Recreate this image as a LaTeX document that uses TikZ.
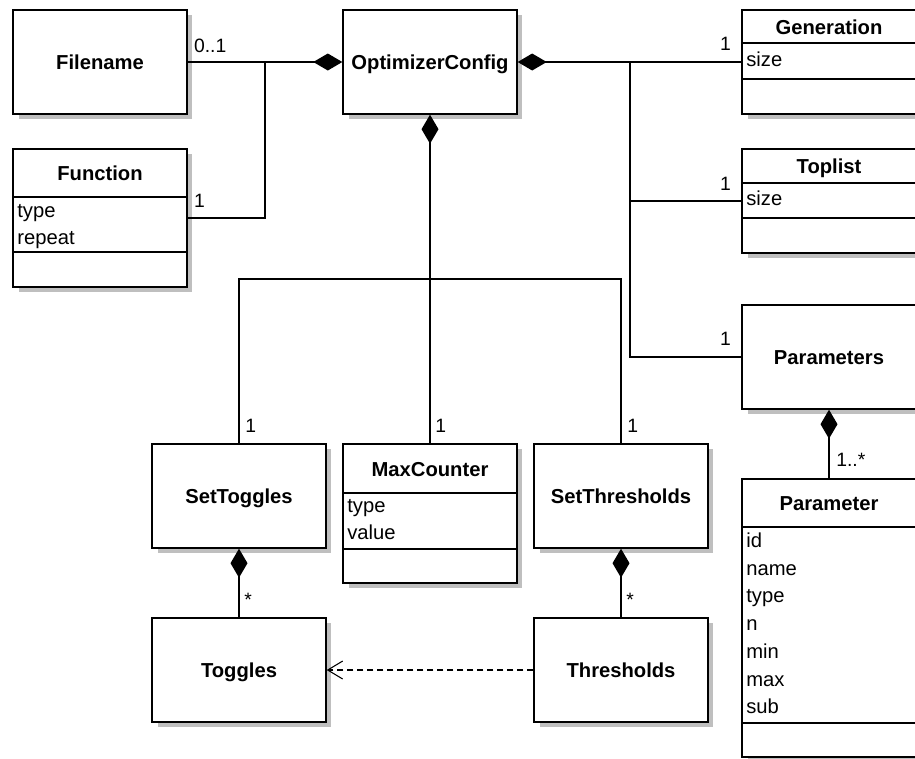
\documentclass[tikz,border=0pt]{standalone}
\usepackage{fontspec}
\setmainfont{Liberation Sans}
\usetikzlibrary{arrows.meta,shadows}

\begin{document}
\begin{tikzpicture}[x=0.02cm,y=-0.02cm,
  cls/.style={draw,line width=0.8pt,fill=white,minimum width=3.48cm,inner sep=0pt,
    drop shadow={shadow xshift=0.11cm,shadow yshift=-0.1cm,fill=black!25,opacity=1}},
  ttl/.style={font=\fontsize{11.5}{13}\selectfont\bfseries,inner sep=0pt,text height=8.2pt,text depth=0pt},
  attr/.style={font=\fontsize{11.5}{13}\selectfont,inner sep=0pt,anchor=mid west},
  mult/.style={font=\fontsize{11}{13}\selectfont,inner sep=0pt},
  assoc/.style={line width=0.8pt},
  comp/.style={assoc,-{Diamond[length=0.58cm,width=0.34cm]}},
  dep/.style={line width=0.6pt,dash pattern=on 0.12cm off 0.08cm,-{Straight Barb[length=0.3cm,width=0.36cm]}}]
  \useasboundingbox (0,0) rectangle (915,758);

  % plain classes
  \node[cls,ttl,minimum height=2.08cm] (fname) at (100,62) {Filename};
  \node[cls,ttl,minimum height=2.08cm] (opt) at (430,62) {OptimizerConfig};
  \node[cls,ttl,minimum height=2.08cm] (params) at (829,357) {Parameters};
  \node[cls,ttl,minimum height=2.08cm] (stog) at (239,496) {SetToggles};
  \node[cls,ttl,minimum height=2.08cm] (sthr) at (621,496) {SetThresholds};
  \node[cls,ttl,minimum height=2.08cm] (tog) at (239,670) {Toggles};
  \node[cls,ttl,minimum height=2.08cm] (thr) at (621,670) {Thresholds};

  % classes with attributes
  \node[cls,minimum height=2.76cm] (func) at (100,218) {};
  \node[ttl] (funcT) at (100,173) {Function};
  \draw[assoc] (func.west |- 0,197) -- (func.east |- 0,197);
  \draw[assoc] (func.west |- 0,252) -- (func.east |- 0,252);
  \node[attr] (funcA1) at (17,213) {type};
  \node[attr] (funcA2) at (17,240) {repeat};

  \node[cls,minimum height=2.08cm] (gen) at (829,62) {};
  \node[ttl] (genT) at (829,27.5) {Generation};
  \draw[assoc] (gen.west |- 0,43) -- (gen.east |- 0,43);
  \draw[assoc] (gen.west |- 0,79) -- (gen.east |- 0,79);
  \node[attr] (genA1) at (746,62) {size};

  \node[cls,minimum height=2.08cm] (top) at (829,201) {};
  \node[ttl] (topT) at (829,166) {Toplist};
  \draw[assoc] (top.west |- 0,183) -- (top.east |- 0,183);
  \draw[assoc] (top.west |- 0,218) -- (top.east |- 0,218);
  \node[attr] (topA1) at (746,201) {size};

  \node[cls,minimum height=2.78cm] (mc) at (430,513.5) {};
  \node[ttl] (mcT) at (430,469) {MaxCounter};
  \draw[assoc] (mc.west |- 0,493) -- (mc.east |- 0,493);
  \draw[assoc] (mc.west |- 0,549) -- (mc.east |- 0,549);
  \node[attr] (mcA1) at (347,508) {type};
  \node[attr] (mcA2) at (347,535) {value};

  \node[cls,minimum height=5.56cm] (param) at (829,618) {};
  \node[ttl] (paramT) at (829,503) {Parameter};
  \draw[assoc] (param.west |- 0,527) -- (param.east |- 0,527);
  \draw[assoc] (param.west |- 0,723) -- (param.east |- 0,723);
  \foreach \a [count=\i] in {id,name,type,n,min,max,sub}
    \node[attr] (paramA\i) at (746,{543+27.67*(\i-1)}) {\a};

  % connectors
  \coordinate (jL) at (265,62);
  \coordinate (jR) at (630,62);
  \coordinate (jB) at (430,279);
  \draw[comp] (fname.east) -- (opt.west);
  \draw[assoc] (func.east) -| (jL);
  \draw[comp] (gen.west) -- (opt.east);
  \draw[assoc] (jR) |- (top.west);
  \draw[assoc] (jR) |- (params.west);
  \draw[comp] (mc.north) -- (opt.south);
  \draw[assoc] (stog.north) |- (jB) -| (sthr.north);
  \draw[comp] (param.north) -- (params.south);
  \draw[comp] (tog.north) -- (stog.south);
  \draw[comp] (thr.north) -- (sthr.south);
  \draw[dep] (thr.west) -- (tog.east);

  % multiplicities
  \node[mult,anchor=base west] (mFname) at ([shift={(6,-10)}]fname.east) {0..1};
  \node[mult,anchor=base west] (mFunc) at ([shift={(6,-11)}]func.east) {1};
  \node[mult,anchor=base east] (mGen) at ([shift={(-10,-12)}]gen.west) {1};
  \node[mult,anchor=base east] (mTop) at ([shift={(-10,-11)}]top.west) {1};
  \node[mult,anchor=base east] (mParams) at ([shift={(-10,-12)}]params.west) {1};
  \node[mult,anchor=base west] (mStog) at ([shift={(6,-11)}]stog.north) {1};
  \node[mult,anchor=base west] (mMc) at ([shift={(5,-11)}]mc.north) {1};
  \node[mult,anchor=base west] (mSthr) at ([shift={(6,-11)}]sthr.north) {1};
  \node[mult,anchor=base west] (mTog) at ([shift={(5,-11)}]tog.north) {*};
  \node[mult,anchor=base west] (mThr) at ([shift={(5,-11)}]thr.north) {*};
  \node[mult,anchor=base west] (mParam) at ([shift={(7,-12)}]param.north) {1..*};
\end{tikzpicture}
\end{document}
